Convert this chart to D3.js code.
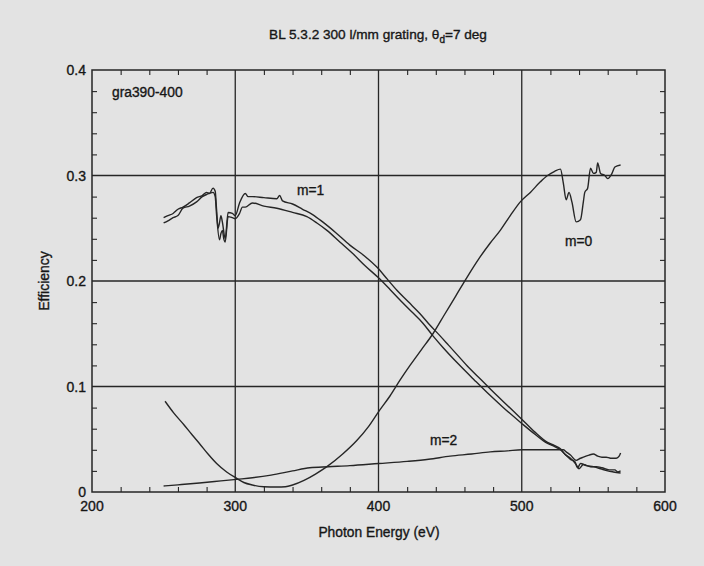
<!DOCTYPE html>
<html>
<head>
<meta charset="utf-8">
<script src="https://cdn.jsdelivr.net/npm/d3@7"></script>
<style>
  body { margin: 0; background: #e3e3e3; }
  svg { display: block; font-family: "Liberation Sans", Arial, sans-serif; }
  text { fill: #161616; stroke: #161616; stroke-width: 0.35px; }
</style>
</head>
<body>
<div id="graph"></div>
<script>
// tick labels
const xTicks = [200, 300, 400, 500, 600]
const yTicks = [0, 0.1, 0.2, 0.3, 0.4]
const yTickLabels = ['0', '0.1', '0.2', '0.3', '0.4']

// m=1, two traces
const m1aEnergy = [250,253,256.6,260,263.5,268,273,277,280,282,284.5,286,287,288,289,290,291,293,295,298,300,303,307,309,312,320,329,331,333,340,347,354,361,370,380,390,399,406,413,421,429,436,443,449,455,463,472,480,490,500,509,518,523,527,530,534,538,540,543,548,552,556,561,565,567,569]
const m1aEff = [0.260,0.262,0.264,0.268,0.270,0.274,0.279,0.281,0.284,0.283,0.288,0.285,0.267,0.250,0.255,0.262,0.256,0.240,0.265,0.264,0.262,0.274,0.283,0.280,0.280,0.279,0.278,0.281,0.276,0.273,0.268,0.263,0.256,0.246,0.234,0.224,0.213,0.202,0.191,0.180,0.169,0.158,0.148,0.139,0.130,0.118,0.106,0.095,0.082,0.069,0.057,0.047,0.044,0.041,0.036,0.032,0.026,0.022,0.026,0.024,0.024,0.023,0.021,0.021,0.019,0.020]

const m1bEnergy = [250,253,256.6,260,263.5,268,273,277,280,284.5,286,287,289,290,291,292,293,295,298,300,303,305,307,312,320,329,340,350,357,364,373,382,391,400,408,415,423,431,438,445,456,467,476,488,500,509,518,523,527,530,534,537,539,541,545,550,555,560,564,569]
const m1bEff = [0.255,0.257,0.260,0.262,0.269,0.271,0.275,0.280,0.282,0.284,0.280,0.262,0.239,0.245,0.248,0.240,0.237,0.261,0.260,0.259,0.264,0.270,0.270,0.274,0.271,0.269,0.265,0.261,0.255,0.248,0.237,0.226,0.214,0.203,0.192,0.182,0.171,0.160,0.148,0.137,0.121,0.106,0.094,0.079,0.065,0.055,0.046,0.043,0.040,0.036,0.031,0.029,0.023,0.027,0.025,0.024,0.022,0.020,0.019,0.018]

// m=2
const m2Energy = [250,260,275,290,301,312,325,340,352,365,380,400,420,435,450,465,478,490,500,515,527,529,531,534,538,541,543,547,550,553,556,559,562,566,568,569]
const m2Eff = [0.0057,0.0068,0.0085,0.0105,0.012,0.0135,0.016,0.020,0.023,0.024,0.025,0.027,0.029,0.031,0.034,0.036,0.038,0.039,0.040,0.040,0.040,0.040,0.038,0.035,0.030,0.032,0.033,0.035,0.036,0.034,0.033,0.033,0.032,0.032,0.034,0.037]

// m=0
const m0Energy = [251,257,264,270,275,281,287,294,301,306,312,320,329,335,340,348,356,364,375,385,393,400,408,415,422,430,438,446,454,462,470,478,485,492,499,506,513,518,523,527,529,531,533,535,538,541,543,544,546,548,550,552,553,555,558,560,563,565,569]
const m0Eff = [0.086,0.075,0.064,0.054,0.046,0.036,0.027,0.019,0.013,0.009,0.0066,0.005,0.0047,0.005,0.0066,0.011,0.017,0.024,0.036,0.049,0.062,0.076,0.091,0.106,0.120,0.135,0.150,0.168,0.186,0.204,0.221,0.236,0.248,0.262,0.275,0.284,0.294,0.300,0.304,0.306,0.293,0.277,0.284,0.275,0.256,0.258,0.275,0.284,0.288,0.307,0.302,0.303,0.312,0.302,0.300,0.297,0.302,0.308,0.310]

const width = 704, height = 566
const margin = { top: 70, right: 39, bottom: 74, left: 92 }
const ink = '#262626'

const svg = d3.select('#graph').append('svg')
    .attr('width', width)
    .attr('height', height)

svg.append('rect').attr('width', width).attr('height', height).attr('fill', '#e3e3e3')

const x = d3.scaleLinear().domain([200, 600]).range([margin.left, width - margin.right])
const y = d3.scaleLinear().domain([0, 0.4]).range([height - margin.bottom, margin.top])

const g = svg.append('g')

// minor ticks on all four sides (inward)
const xMinor = d3.range(220, 600, 20).filter(v => v % 100 !== 0)
const yMinor = d3.range(0.02, 0.4, 0.02).filter(v => Math.abs(v * 10 - Math.round(v * 10)) > 1e-6)

g.append('g').attr('transform', `translate(0,${y(0)})`)
    .call(d3.axisTop(x).tickValues(xMinor).tickSize(5).tickFormat(''))
g.append('g').attr('transform', `translate(0,${y(0.4)})`)
    .call(d3.axisBottom(x).tickValues(xMinor).tickSize(5).tickFormat(''))
g.append('g').attr('transform', `translate(${x(200)},0)`)
    .call(d3.axisRight(y).tickValues(yMinor).tickSize(5).tickFormat(''))
g.append('g').attr('transform', `translate(${x(600)},0)`)
    .call(d3.axisLeft(y).tickValues(yMinor).tickSize(5).tickFormat(''))
g.selectAll('.domain').remove()
g.selectAll('.tick line').attr('stroke', ink).attr('stroke-width', 1.1)

// grid at majors
g.selectAll('.vgrid').data(xTicks.slice(1, -1)).enter().append('line')
    .attr('x1', d => x(d)).attr('x2', d => x(d))
    .attr('y1', y(0)).attr('y2', y(0.4))
    .attr('stroke', ink).attr('stroke-width', 1.3)
g.selectAll('.hgrid').data(yTicks.slice(1, -1)).enter().append('line')
    .attr('x1', x(200)).attr('x2', x(600))
    .attr('y1', d => y(d)).attr('y2', d => y(d))
    .attr('stroke', ink).attr('stroke-width', 1.3)

// frame
g.append('rect')
    .attr('x', x(200)).attr('y', y(0.4))
    .attr('width', x(600) - x(200)).attr('height', y(0) - y(0.4))
    .attr('fill', 'none').attr('stroke', ink).attr('stroke-width', 1.5)

// tick labels
svg.selectAll('.xl').data(xTicks).enter().append('text')
    .attr('x', d => x(d)).attr('y', y(0) + 19)
    .attr('text-anchor', 'middle').attr('font-size', 14)
    .text(d => d)
svg.selectAll('.yl').data(yTicks).enter().append('text')
    .attr('x', x(200) - 6).attr('y', d => y(d) + 5)
    .attr('text-anchor', 'end').attr('font-size', 14)
    .text((d, i) => yTickLabels[i])

// curves
const line = d3.line().x(d => x(d[0])).y(d => y(d[1])).curve(d3.curveMonotoneX)
const series = [
    d3.zip(m1aEnergy, m1aEff),
    d3.zip(m1bEnergy, m1bEff),
    d3.zip(m2Energy, m2Eff),
    d3.zip(m0Energy, m0Eff)
]
g.selectAll('.curve').data(series).enter().append('path')
    .attr('d', line)
    .attr('fill', 'none').attr('stroke', ink).attr('stroke-width', 1.4)
    .attr('stroke-linejoin', 'round')

// annotations
const note = (tx, ty, s) => svg.append('text').attr('x', tx).attr('y', ty)
    .attr('font-size', 13.8).text(s)
note(112, 97, 'gra390-400')
note(297, 195, 'm=1')
note(565, 246, 'm=0')
note(430, 445, 'm=2')

// title
const title = svg.append('text').attr('x', 378).attr('y', 39)
    .attr('text-anchor', 'middle').attr('font-size', 13.6)
title.append('tspan').text('BL 5.3.2 300 l/mm grating, θ')
title.append('tspan').attr('font-size', 10).attr('dy', 4).text('d')
title.append('tspan').attr('dy', -4).text('=7 deg')

// axis titles
svg.append('text').attr('x', 379).attr('y', 537)
    .attr('text-anchor', 'middle').attr('font-size', 13.8)
    .text('Photon Energy (eV)')
svg.append('text').attr('transform', `translate(49,281) rotate(-90)`)
    .attr('text-anchor', 'middle').attr('font-size', 14)
    .text('Efficiency')
</script>
</body>
</html>
